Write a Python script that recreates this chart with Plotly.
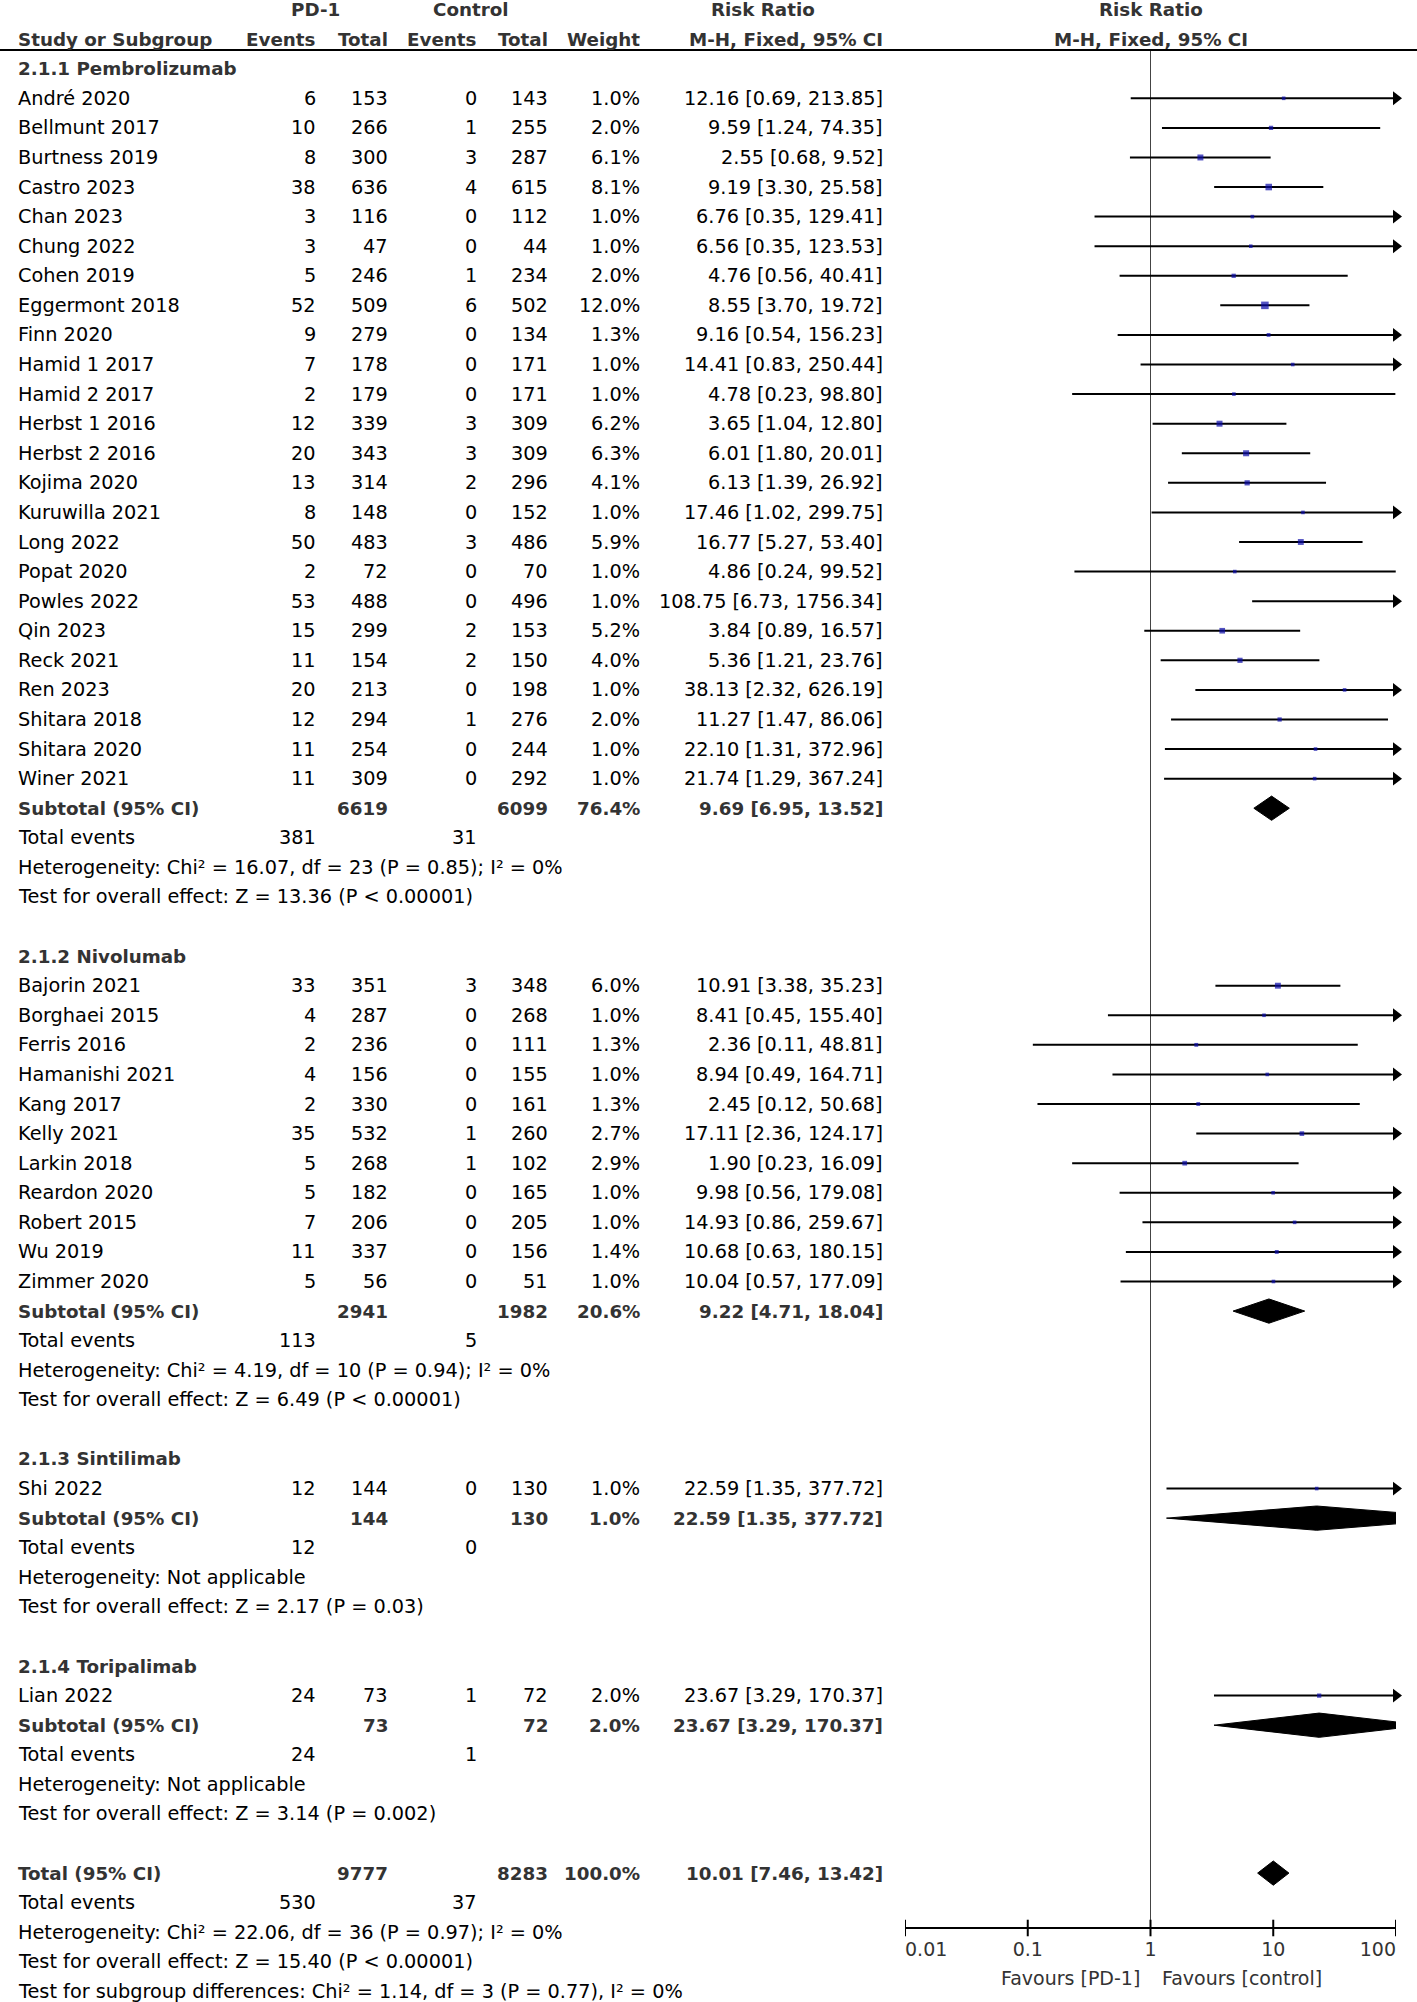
import numpy as np
import plotly.graph_objects as go

# ---------------- data ----------------
group_names = ["2.1.1 Pembrolizumab", "2.1.2 Nivolumab", "2.1.3 Sintilimab", "2.1.4 Toripalimab"]

study = ["André 2020", "Bellmunt 2017", "Burtness 2019", "Castro 2023", "Chan 2023", "Chung 2022",
         "Cohen 2019", "Eggermont 2018", "Finn 2020", "Hamid 1 2017", "Hamid 2 2017", "Herbst 1 2016",
         "Herbst 2 2016", "Kojima 2020", "Kuruwilla 2021", "Long 2022", "Popat 2020", "Powles 2022",
         "Qin 2023", "Reck 2021", "Ren 2023", "Shitara 2018", "Shitara 2020", "Winer 2021",
         "Bajorin 2021", "Borghaei 2015", "Ferris 2016", "Hamanishi 2021", "Kang 2017", "Kelly 2021",
         "Larkin 2018", "Reardon 2020", "Robert 2015", "Wu 2019", "Zimmer 2020",
         "Shi 2022",
         "Lian 2022"]
study_group = [0] * 24 + [1] * 11 + [2] + [3]

pd1_events = [6, 10, 8, 38, 3, 3, 5, 52, 9, 7, 2, 12, 20, 13, 8, 50, 2, 53, 15, 11, 20, 12, 11, 11,
              33, 4, 2, 4, 2, 35, 5, 5, 7, 11, 5,
              12,
              24]
pd1_total = [153, 266, 300, 636, 116, 47, 246, 509, 279, 178, 179, 339, 343, 314, 148, 483, 72, 488,
             299, 154, 213, 294, 254, 309,
             351, 287, 236, 156, 330, 532, 268, 182, 206, 337, 56,
             144,
             73]
ctl_events = [0, 1, 3, 4, 0, 0, 1, 6, 0, 0, 0, 3, 3, 2, 0, 3, 0, 0, 2, 2, 0, 1, 0, 0,
              3, 0, 0, 0, 0, 1, 1, 0, 0, 0, 0,
              0,
              1]
ctl_total = [143, 255, 287, 615, 112, 44, 234, 502, 134, 171, 171, 309, 309, 296, 152, 486, 70, 496,
             153, 150, 198, 276, 244, 292,
             348, 268, 111, 155, 161, 260, 102, 165, 205, 156, 51,
             130,
             72]
weight_pct = [1.0, 2.0, 6.1, 8.1, 1.0, 1.0, 2.0, 12.0, 1.3, 1.0, 1.0, 6.2, 6.3, 4.1, 1.0, 5.9, 1.0, 1.0,
              5.2, 4.0, 1.0, 2.0, 1.0, 1.0,
              6.0, 1.0, 1.3, 1.0, 1.3, 2.7, 2.9, 1.0, 1.0, 1.4, 1.0,
              1.0,
              2.0]
rr = [12.16, 9.59, 2.55, 9.19, 6.76, 6.56, 4.76, 8.55, 9.16, 14.41, 4.78, 3.65, 6.01, 6.13, 17.46, 16.77,
      4.86, 108.75, 3.84, 5.36, 38.13, 11.27, 22.10, 21.74,
      10.91, 8.41, 2.36, 8.94, 2.45, 17.11, 1.90, 9.98, 14.93, 10.68, 10.04,
      22.59,
      23.67]
rr_lo = [0.69, 1.24, 0.68, 3.30, 0.35, 0.35, 0.56, 3.70, 0.54, 0.83, 0.23, 1.04, 1.80, 1.39, 1.02, 5.27,
         0.24, 6.73, 0.89, 1.21, 2.32, 1.47, 1.31, 1.29,
         3.38, 0.45, 0.11, 0.49, 0.12, 2.36, 0.23, 0.56, 0.86, 0.63, 0.57,
         1.35,
         3.29]
rr_hi = [213.85, 74.35, 9.52, 25.58, 129.41, 123.53, 40.41, 19.72, 156.23, 250.44, 98.80, 12.80, 20.01,
         26.92, 299.75, 53.40, 99.52, 1756.34, 16.57, 23.76, 626.19, 86.06, 372.96, 367.24,
         35.23, 155.40, 48.81, 164.71, 50.68, 124.17, 16.09, 179.08, 259.67, 180.15, 177.09,
         377.72,
         170.37]

sub_pd1_total = [6619, 2941, 144, 73]
sub_ctl_total = [6099, 1982, 130, 72]
sub_weight = [76.4, 20.6, 1.0, 2.0]
sub_rr = [9.69, 9.22, 22.59, 23.67]
sub_lo = [6.95, 4.71, 1.35, 3.29]
sub_hi = [13.52, 18.04, 377.72, 170.37]
sub_pd1_events = [381, 113, 12, 24]
sub_ctl_events = [31, 5, 0, 1]
sub_het = ["Heterogeneity: Chi² = 16.07, df = 23 (P = 0.85); I² = 0%",
           "Heterogeneity: Chi² = 4.19, df = 10 (P = 0.94); I² = 0%",
           "Heterogeneity: Not applicable",
           "Heterogeneity: Not applicable"]
sub_test = ["Test for overall effect: Z = 13.36 (P &lt; 0.00001)",
            "Test for overall effect: Z = 6.49 (P &lt; 0.00001)",
            "Test for overall effect: Z = 2.17 (P = 0.03)",
            "Test for overall effect: Z = 3.14 (P = 0.002)"]

tot_pd1_total, tot_ctl_total, tot_weight = 9777, 8283, 100.0
tot_rr, tot_lo, tot_hi = 10.01, 7.46, 13.42
tot_pd1_events, tot_ctl_events = 530, 37
tot_het = "Heterogeneity: Chi² = 22.06, df = 36 (P = 0.97); I² = 0%"
tot_test = "Test for overall effect: Z = 15.40 (P &lt; 0.00001)"
tot_subgroup = "Test for subgroup differences: Chi² = 1.14, df = 3 (P = 0.77), I² = 0%"

tick_vals = [0.01, 0.1, 1, 10, 100]
tick_text = ["0.01", "0.1", "1", "10", "100"]
favours_left = "Favours [PD-1]"
favours_right = "Favours [control]"

# ---------------- layout constants ----------------
W, H = 1417, 2002
ROW0_PX, ROW_PX = 98.3, 29.58
y_top = -ROW0_PX / ROW_PX
y_bot = (H - ROW0_PX) / ROW_PX
X_MIN, X_MAX = 0.01, 100
FX0, FX1 = 905, 1396
COL = dict(name=17, ev1=317, tot1=389, ev2=478, tot2=549, wt=641, rr=884)
FONT = "DejaVu Sans"
FS = 19.3
FS_B = 18.3
BOLD_C = "#333333"
HEAD_LINE_ROW = (50 - ROW0_PX) / ROW_PX
AXIS_ROW = (1928 - ROW0_PX) / ROW_PX
TICKLAB_ROW = (1951 - ROW0_PX) / ROW_PX
FAV_ROW = (1978 - ROW0_PX) / ROW_PX
DIA_H = 0.41
TICK_H = 0.28

ann = []


def txt(s, xpx, row, anchor="left", bold=False):
    ann.append(dict(text=(f"<b>{s}</b>" if bold else s), x=xpx / W, y=row, xref="paper", yref="y",
                    xanchor=anchor, yanchor="middle", showarrow=False, borderpad=0,
                    font=dict(family=FONT, size=FS_B if bold else FS,
                              color=BOLD_C if bold else "#000000")))


def fmt_ci(e, lo, hi):
    return f"{e:.2f} [{lo:.2f}, {hi:.2f}]"


# headers
txt("PD-1", 315, -3, "center", True)
txt("Control", 471, -3, "center", True)
txt("Risk Ratio", 763, -3, "center", True)
txt("Study or Subgroup", COL["name"], -2, "left", True)
txt("Events", COL["ev1"], -2, "right", True)
txt("Total", COL["tot1"], -2, "right", True)
txt("Events", COL["ev2"], -2, "right", True)
txt("Total", COL["tot2"], -2, "right", True)
txt("Weight", COL["wt"], -2, "right", True)
txt("M-H, Fixed, 95% CI", COL["rr"], -2, "right", True)
for s, rw in (("Risk Ratio", -3), ("M-H, Fixed, 95% CI", -2)):
    ann.append(dict(text=f"<b>{s}</b>", x=np.log10(1.0), y=rw, xref="x", yref="y", xanchor="center",
                    yanchor="middle", showarrow=False, borderpad=0,
                    font=dict(family=FONT, size=FS_B, color=BOLD_C)))

study_row = [None] * len(study)
sub_row = []
r = -1
for g, gname in enumerate(group_names):
    txt(gname, COL["name"], r, "left", True)
    r += 1
    for i, sg in enumerate(study_group):
        if sg != g:
            continue
        study_row[i] = r
        txt(study[i], COL["name"], r)
        txt(str(pd1_events[i]), COL["ev1"], r, "right")
        txt(str(pd1_total[i]), COL["tot1"], r, "right")
        txt(str(ctl_events[i]), COL["ev2"], r, "right")
        txt(str(ctl_total[i]), COL["tot2"], r, "right")
        txt(f"{weight_pct[i]:.1f}%", COL["wt"], r, "right")
        txt(fmt_ci(rr[i], rr_lo[i], rr_hi[i]), COL["rr"], r, "right")
        r += 1
    sub_row.append(r)
    txt("Subtotal (95% CI)", COL["name"], r, "left", True)
    txt(str(sub_pd1_total[g]), COL["tot1"], r, "right", True)
    txt(str(sub_ctl_total[g]), COL["tot2"], r, "right", True)
    txt(f"{sub_weight[g]:.1f}%", COL["wt"], r, "right", True)
    txt(fmt_ci(sub_rr[g], sub_lo[g], sub_hi[g]), COL["rr"], r, "right", True)
    r += 1
    txt("Total events", COL["name"], r)
    txt(str(sub_pd1_events[g]), COL["ev1"], r, "right")
    txt(str(sub_ctl_events[g]), COL["ev2"], r, "right")
    r += 1
    txt(sub_het[g], COL["name"], r)
    r += 1
    txt(sub_test[g], COL["name"], r)
    r += 2

total_row = r
txt("Total (95% CI)", COL["name"], r, "left", True)
txt(str(tot_pd1_total), COL["tot1"], r, "right", True)
txt(str(tot_ctl_total), COL["tot2"], r, "right", True)
txt(f"{tot_weight:.1f}%", COL["wt"], r, "right", True)
txt(fmt_ci(tot_rr, tot_lo, tot_hi), COL["rr"], r, "right", True)
txt("Total events", COL["name"], r + 1)
txt(str(tot_pd1_events), COL["ev1"], r + 1, "right")
txt(str(tot_ctl_events), COL["ev2"], r + 1, "right")
txt(tot_het, COL["name"], r + 2)
txt(tot_test, COL["name"], r + 3)
txt(tot_subgroup, COL["name"], r + 4)

# favours labels
for s, anc, sh in ((favours_left, "right", -10), (favours_right, "left", 10)):
    ann.append(dict(text=s, x=np.log10(1.0), y=FAV_ROW, xref="x", yref="y", xanchor=anc, xshift=sh,
                    yanchor="middle", showarrow=False, borderpad=0,
                    font=dict(family=FONT, size=19, color="#333333")))

# ---------------- traces ----------------
fig = go.Figure()

# null line
fig.add_trace(go.Scatter(x=[1, 1], y=[HEAD_LINE_ROW, AXIS_ROW], mode="lines",
                         line=dict(color="#444444", width=1), hoverinfo="skip"))

# CI lines
lx, ly = [], []
for i in range(len(study)):
    lx += [max(rr_lo[i], X_MIN), min(rr_hi[i], X_MAX), None]
    ly += [study_row[i], study_row[i], None]
fig.add_trace(go.Scatter(x=lx, y=ly, mode="lines", line=dict(color="black", width=2), hoverinfo="skip"))

# arrows
ax_ = [X_MAX for i in range(len(study)) if rr_hi[i] > X_MAX]
ay_ = [study_row[i] for i in range(len(study)) if rr_hi[i] > X_MAX]
fig.add_trace(go.Scatter(x=ax_, y=ay_, mode="markers", cliponaxis=False,
                         marker=dict(symbol="triangle-right", size=12, color="black"), hoverinfo="skip"))

# squares
fig.add_trace(go.Scatter(x=rr, y=study_row, mode="markers", cliponaxis=True,
                         marker=dict(symbol="square", color="#0a0aa8",
                                     size=[2.0 + 1.6 * np.sqrt(w) for w in weight_pct],
                                     line=dict(width=0)), hoverinfo="skip"))

# diamonds
for g in range(len(group_names)):
    rw = sub_row[g]
    fig.add_trace(go.Scatter(x=[sub_lo[g], sub_rr[g], sub_hi[g], sub_rr[g], sub_lo[g]],
                             y=[rw, rw - DIA_H, rw, rw + DIA_H, rw], mode="lines", fill="toself",
                             fillcolor="black", line=dict(color="black", width=1), hoverinfo="skip"))
fig.add_trace(go.Scatter(x=[tot_lo, tot_rr, tot_hi, tot_rr, tot_lo],
                         y=[total_row, total_row - DIA_H, total_row, total_row + DIA_H, total_row],
                         mode="lines", fill="toself", fillcolor="black",
                         line=dict(color="black", width=1), hoverinfo="skip"))

# x axis line and ticks
fig.add_trace(go.Scatter(x=[tick_vals[0], tick_vals[-1]], y=[AXIS_ROW, AXIS_ROW], mode="lines",
                         cliponaxis=False, line=dict(color="black", width=2), hoverinfo="skip"))
tx, ty = [], []
for v in tick_vals:
    tx += [v, v, None]
    ty += [AXIS_ROW - TICK_H, AXIS_ROW + TICK_H, None]
fig.add_trace(go.Scatter(x=tx, y=ty, mode="lines", line=dict(color="black", width=2), hoverinfo="skip"))
fig.add_trace(go.Scatter(x=tick_vals, y=[TICKLAB_ROW] * len(tick_vals), mode="text", text=tick_text,
                         cliponaxis=False,
                         textposition=["middle right", "middle center", "middle center", "middle center",
                                       "middle left"],
                         textfont=dict(family=FONT, size=19, color="#333333"), hoverinfo="skip"))

fig.update_layout(
    width=W, height=H, margin=dict(l=0, r=0, t=0, b=0, pad=0),
    paper_bgcolor="white", plot_bgcolor="white", showlegend=False,
    xaxis=dict(type="log", range=[np.log10(X_MIN), np.log10(X_MAX)], domain=[FX0 / W, FX1 / W],
               visible=False, fixedrange=True),
    yaxis=dict(range=[y_bot, y_top], domain=[0, 1], visible=False, fixedrange=True),
    annotations=ann,
    shapes=[dict(type="line", xref="paper", yref="y", x0=0, x1=1, y0=HEAD_LINE_ROW, y1=HEAD_LINE_ROW,
                 line=dict(color="black", width=2))],
)

fig.write_html("out.html", config={"displayModeBar": False},
               post_script="document.body.style.margin='0';")
